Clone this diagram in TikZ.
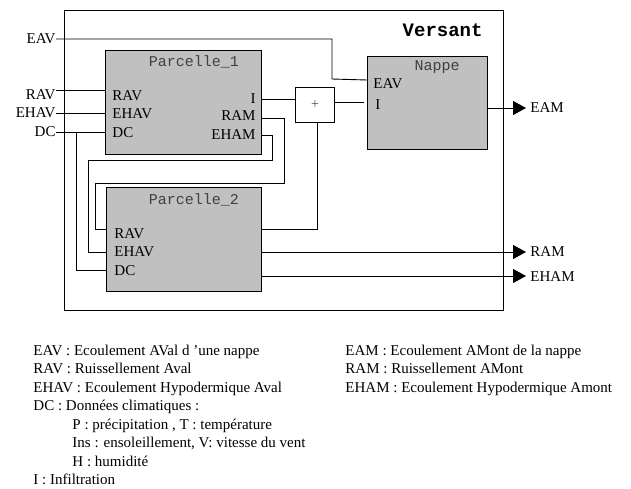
\documentclass[tikz,border=0pt]{standalone}
\usepackage{fontspec}
\setmainfont{Liberation Serif}
\setmonofont{Liberation Mono}
\usetikzlibrary{arrows.meta}
\definecolor{boxgray}{HTML}{C0C0C0}
\begin{document}
\begin{tikzpicture}[x=1pt,y=-1pt,line width=0.9pt,
  blk/.style={draw,fill=boxgray,inner sep=0pt,anchor=north west},
  frame/.style={draw,inner sep=0pt,anchor=north west},
  lbl/.style={inner sep=0pt,font=\fontsize{15}{17}\selectfont},
  ttl/.style={inner sep=0pt,text=black!75,font=\fontsize{15}{17}\selectfont\ttfamily},
  leg/.style={inner sep=0pt,anchor=base west,font=\fontsize{15}{17}\selectfont},
  outarrow/.style={-{Triangle[length=13pt,width=14pt]}}]
\useasboundingbox (0,0) rectangle (631,488);
% frames
\node[frame,minimum width=439pt,minimum height=300pt] (vers) at (64,10) {};
\node[blk,minimum width=156pt,minimum height=104pt] (p1) at (105,50) {};
\node[blk,minimum width=155pt,minimum height=104pt] (p2) at (106,187) {};
\node[blk,minimum width=120pt,minimum height=93pt] (nap) at (367,56) {};
\node[frame,fill=white,minimum width=39pt,minimum height=35pt] (plus) at (295,87) {};
\node[inner sep=0pt,text=black!70,font=\fontsize{14}{16}\selectfont] (plussign) at (plus.center) {+};
% titles
\node[inner sep=0pt,anchor=east,font=\fontsize{19}{21}\selectfont\ttfamily\bfseries] (tv) at (483,30) {Versant};
\node[ttl] (t1) at (194,62) {Parcelle\_1};
\node[ttl] (t2) at (194,200) {Parcelle\_2};
\node[ttl] (t3) at (437,67) {Nappe};
% outside input labels
\node[lbl,anchor=east] (iEAV) at (56,39) {EAV};
\node[lbl,anchor=east] (iRAV) at (56,95) {RAV};
\node[lbl,anchor=east] (iEHAV) at (56,113) {EHAV};
\node[lbl,anchor=east] (iDC) at (56,132) {DC};
% P1 port labels
\node[lbl,anchor=west] (a1) at (112,96) {RAV};
\node[lbl,anchor=west] (a2) at (112,114) {EHAV};
\node[lbl,anchor=west] (a3) at (112,133) {DC};
\node[lbl,anchor=east] (b1) at (256,99) {I};
\node[lbl,anchor=east] (b2) at (256,116) {RAM};
\node[lbl,anchor=east] (b3) at (256,135) {EHAM};
% P2 port labels
\node[lbl,anchor=west] (c1) at (114,234) {RAV};
\node[lbl,anchor=west] (c2) at (114,251.5) {EHAV};
\node[lbl,anchor=west] (c3) at (114,270.5) {DC};
% Nappe port labels
\node[lbl,anchor=west] (n1) at (373,84) {EAV};
\node[lbl,anchor=west] (n2) at (375,105) {I};
% output labels
\node[lbl,anchor=west] (oEAM) at (530,108) {EAM};
\node[lbl,anchor=west] (oRAM) at (530,252) {RAM};
\node[lbl,anchor=west] (oEHAM) at (530,277) {EHAM};
% coordinates
\coordinate (tip1) at (526,108);
\coordinate (tip2) at (526,252);
\coordinate (tip3) at (526,276);
% connectors
\draw (iEAV.east) -- (332,39) -- (332,79) -- (nap.west|-0,80);
\draw (56,90) -- (p1.west|-0,90);
\draw (iEHAV.east) -- (p1.west|-iEHAV.east);
\draw (iDC.east) -- (p1.west|-iDC.east);
\draw (76,132) -- (76,270) -- (p2.west|-0,270);
\draw (p1.east|-0,99) -- (plus.west|-0,99);
\draw (plus.east|-0,102) -- (364,102);
\draw (p1.east|-0,118) -- (284,118) -- (284,183) -- (95,183) -- (95,229) -- (p2.west|-0,229);
\draw (p1.east|-0,135) -- (272,135) -- (272,160) -- (88,160) -- (88,252) -- (p2.west|-0,252);
\draw (p2.east|-0,229) -- (317,229) -- (plus.south-|317,0);
\draw[outarrow] (nap.east|-0,108) -- (tip1);
\draw[outarrow] (p2.east|-0,252) -- (tip2);
\draw[outarrow] (p2.east|-0,276) -- (tip3);
% legend
\node[leg] (l1) at (33,355) {EAV : Ecoulement AVal d ’une nappe};
\node[leg] (l2) at (33,373.5) {RAV : Ruissellement Aval};
\node[leg] (l3) at (33,392) {EHAV : Ecoulement Hypodermique Aval};
\node[leg] (l4) at (33,410.5) {DC : Données climatiques :};
\node[leg] (l5) at (72,429) {P : précipitation , T : température};
\node[leg] (l6) at (72,447.5) {Ins : ensoleillement, V: vitesse du vent};
\node[leg] (l7) at (72,466) {H : humidité};
\node[leg] (l8) at (33,484.5) {I : Infiltration};
\node[leg] (r1) at (345,355) {EAM : Ecoulement AMont de la nappe};
\node[leg] (r2) at (345,373.5) {RAM : Ruissellement AMont};
\node[leg] (r3) at (345,392) {EHAM : Ecoulement Hypodermique Amont};
\end{tikzpicture}
\end{document}
